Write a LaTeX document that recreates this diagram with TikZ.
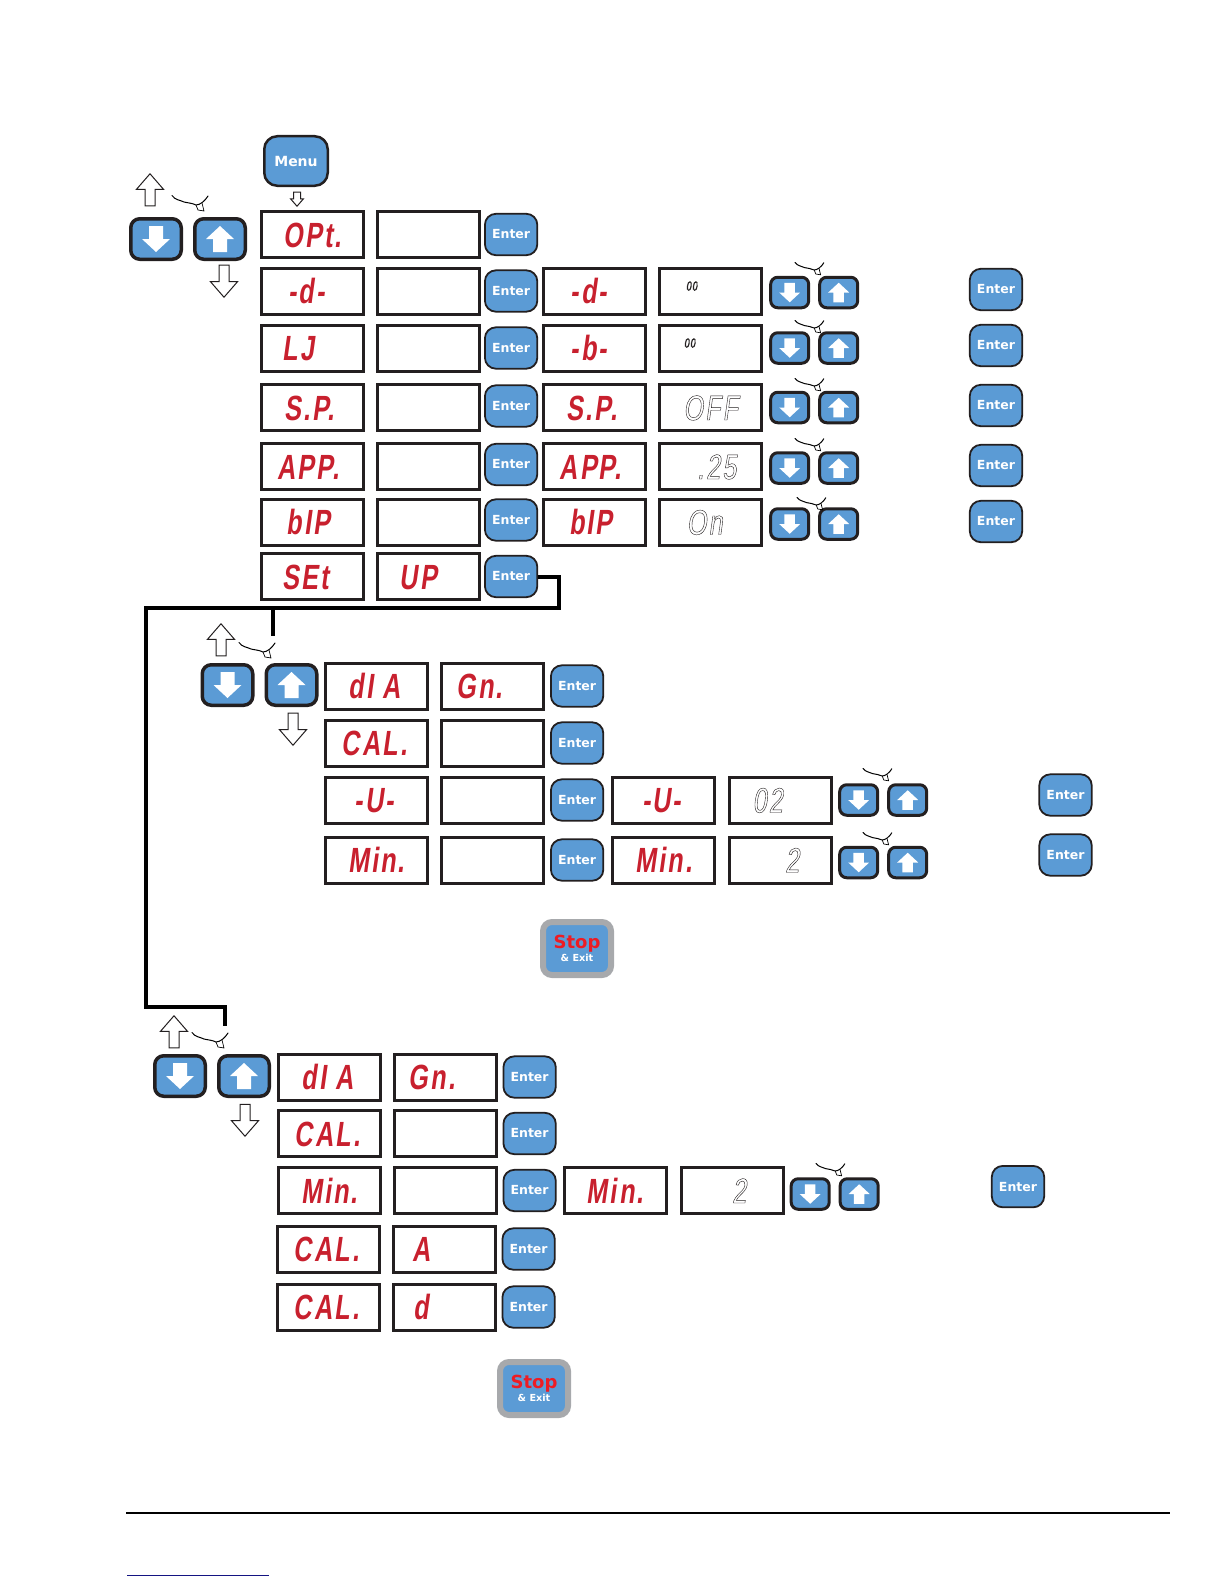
\documentclass[tikz,border=0pt]{standalone}
\usepackage{fontspec}
\usepackage{xcolor}
\usetikzlibrary{arrows.meta,positioning,shapes.arrows,calc}
\newfontfamily\segfont[FakeStretch=0.72,FakeSlant=0.14,LetterSpace=6]{Liberation Sans}
\newfontfamily\keyfont{DejaVu Sans}
\definecolor{keyblue}{RGB}{91,155,213}
\definecolor{keydark}{RGB}{35,31,32}
\definecolor{segred}{RGB}{200,32,46}
\definecolor{stopred}{RGB}{237,28,36}
\definecolor{stopgray}{RGB}{167,169,172}
\definecolor{linkblue}{RGB}{20,20,130}
% unlit digits, outlined only
\newcommand{\unlit}[1]{\mdseries\textcolor{keydark}{\special{pdf:code 1 Tr 0.4 w}#1\special{pdf:code 0 Tr 1 w}}}
\tikzset{
    dispbox/.style={draw=keydark, rectangle, fill=white, line width=3pt, minimum width=102pt, minimum height=46pt,
        inner sep=0pt, text=segred, text height=25pt, text depth=0pt, font=\segfont\bfseries\fontsize{35}{35}\selectfont},
    enterkey/.style={draw=keydark, rectangle, fill=keyblue, line width=1.8pt, rounded corners=11pt, minimum width=52.4pt,
        minimum height=41.4pt, inner sep=0pt, text=white, font=\keyfont\bfseries\fontsize{12.5}{12.5}\selectfont},
    arrowkey/.style={draw=keydark, rectangle, fill=keyblue, line width=3.5pt, rounded corners=9pt, minimum width=50.5pt,
        minimum height=40.5pt, inner sep=0pt},
    smallkey/.style={arrowkey, line width=3pt, rounded corners=7pt, minimum width=38pt, minimum height=30.5pt},
    downmark/.style={path picture={\begin{scope}[shift={(path picture bounding box.center)},x=#1pt,y=-#1pt]
        \fill[white, sharp corners] (-7,-13) -- (7,-13) -- (7,0) -- (14,0) -- (0,13) -- (-14,0) -- (-7,0) -- cycle;\end{scope}}},
    upmark/.style={path picture={\begin{scope}[shift={(path picture bounding box.center)},x=#1pt,y=-#1pt]
        \fill[white, sharp corners] (-7,13) -- (7,13) -- (7,0) -- (14,0) -- (0,-13) -- (-14,0) -- (-7,0) -- cycle;\end{scope}}},
    hollowarrow/.style={single arrow, draw=keydark, fill=white, line width=1pt, inner xsep=4.5pt, inner ysep=0pt, minimum width=26pt,
        minimum height=32pt, single arrow head extend=8.5pt, single arrow tip angle=82, single arrow head indent=0pt, anchor=tip},
    stopkey/.style={draw=stopgray, rectangle, fill=keyblue, line width=6pt, rounded corners=9pt, minimum width=68pt,
        minimum height=53pt, inner sep=0pt, align=center, text=white},
    busline/.style={draw=black, line width=4pt},
    probe/.pic={
        \draw[black, line width=1pt, line cap=round] (0,.5) .. controls (3,5) and (8,5) .. (12,7)
            .. controls (16,8) and (20,8) .. (24,10) .. controls (28,10) and (33,6) .. (36,1);
        \draw[black, line width=.7pt] (24,10) -- (26,15) -- (32,16) -- (30,8);
    }
}
\begin{document}
\begin{tikzpicture}[x=1pt,y=-1pt]
            \useasboundingbox (0,0) rectangle (1224,1584);

            % Menu and navigation keys
            \node[enterkey, line width=2.5pt, rounded corners=13pt, minimum width=63.5pt, minimum height=49.5pt,
                font=\keyfont\bfseries\fontsize{14}{14}\selectfont] (menuKey) at (296,161) {Menu};
            \node[hollowarrow, shape border rotate=270, inner xsep=3pt, minimum width=12pt, minimum height=14pt,
                single arrow head extend=3pt] (menuArrow) at (297,207) {};
            \node[hollowarrow, shape border rotate=90] (firstUp) at (150,173) {};
            \node[hollowarrow, shape border rotate=270] (firstDown) at (224,298) {};
            \pic at (172,195) {probe};
            \node[arrowkey, downmark=1] (firstDownKey) at (156,239) {};
            \node[arrowkey, upmark=1, right=10pt of firstDownKey] (firstUpKey) {};

            % OPt row
            \node[dispbox] (optName) at (312.5,234.5) {OPt.};
            \node[dispbox, right=11pt of optName] (optValue) {};
            \node[enterkey, right=3pt of optValue] (optEnter) {Enter};

            % -d- row
            \node[dispbox] (dName) at (312.5,291) {\hspace*{-12pt}-d-};
            \node[dispbox, right=11pt of dName] (dValue) {};
            \node[enterkey, right=3pt of dValue] (dEnter) {Enter};
            \node[dispbox, right=4pt of dEnter] (dEdit) {\hspace*{-12pt}-d-};
            \node[dispbox, right=11pt of dEdit] (dEditValue) {\hspace*{-38pt}\raisebox{13pt}{\fontsize{13}{13}\selectfont\unlit{00}}};
            \node[smallkey, downmark=.75, right=6pt of dEditValue, yshift=-1.5pt] (dDown) {};
            \node[smallkey, upmark=.75, right=8pt of dDown] (dUp) {};
            \pic[scale=.8] at (795,262) {probe};
            \node[enterkey] (dDone) at (996,289.5) {Enter};

            % LJ row
            \node[dispbox] (bName) at (312.5,348) {\hspace*{-28pt}LJ};
            \node[dispbox, right=11pt of bName] (bValue) {};
            \node[enterkey, right=3pt of bValue] (bEnter) {Enter};
            \node[dispbox, right=4pt of bEnter] (bEdit) {\hspace*{-12pt}-b-};
            \node[dispbox, right=11pt of bEdit] (bEditValue) {\hspace*{-42pt}\raisebox{13pt}{\fontsize{13}{13}\selectfont\unlit{00}}};
            \node[smallkey, downmark=.75, right=6pt of bEditValue] (bDown) {};
            \node[smallkey, upmark=.75, right=8pt of bDown] (bUp) {};
            \pic[scale=.8] at (795,320) {probe};
            \node[enterkey] (bDone) at (996,345.5) {Enter};

            % S.P. row
            \node[dispbox] (spName) at (312.5,407.5) {\hspace*{-6pt}S.P.};
            \node[dispbox, right=11pt of spName] (spValue) {};
            \node[enterkey, right=3pt of spValue, yshift=1.5pt] (spEnter) {Enter};
            \node[dispbox, right=4pt of spEnter, yshift=-1.5pt] (spEdit) {\hspace*{-6pt}S.P.};
            \node[dispbox, right=11pt of spEdit] (spEditValue) {\unlit{OFF}};
            \node[smallkey, downmark=.75, right=6pt of spEditValue] (spDown) {};
            \node[smallkey, upmark=.75, right=8pt of spDown] (spUp) {};
            \pic[scale=.8] at (795,378) {probe};
            \node[enterkey] (spDone) at (996,405.5) {Enter};

            % APP. row
            \node[dispbox] (appName) at (312.5,466.5) {\hspace*{-8pt}APP.};
            \node[dispbox, right=11pt of appName] (appValue) {};
            \node[enterkey, right=3pt of appValue, yshift=2pt] (appEnter) {Enter};
            \node[dispbox, right=4pt of appEnter, yshift=-2pt] (appEdit) {\hspace*{-8pt}APP.};
            \node[dispbox, right=11pt of appEdit] (appEditValue) {\hspace*{12pt}\unlit{.25}};
            \node[smallkey, downmark=.75, right=6pt of appEditValue, yshift=-1.5pt] (appDown) {};
            \node[smallkey, upmark=.75, right=8pt of appDown] (appUp) {};
            \pic[scale=.8] at (795,438) {probe};
            \node[enterkey] (appDone) at (996,465.5) {Enter};

            % bIP row
            \node[dispbox] (bipName) at (312.5,522) {\hspace*{-8pt}bIP};
            \node[dispbox, right=11pt of bipName] (bipValue) {};
            \node[enterkey, right=3pt of bipValue, yshift=2pt] (bipEnter) {Enter};
            \node[dispbox, right=4pt of bipEnter, yshift=-2pt] (bipEdit) {\hspace*{-8pt}bIP};
            \node[dispbox, right=11pt of bipEdit] (bipEditValue) {\hspace*{-12pt}\unlit{On}};
            \node[smallkey, downmark=.75, right=6pt of bipEditValue, yshift=-2pt] (bipDown) {};
            \node[smallkey, upmark=.75, right=8pt of bipDown] (bipUp) {};
            \pic[scale=.8] at (797,497) {probe};
            \node[enterkey] (bipDone) at (996,521.5) {Enter};

            % SEt UP row
            \node[dispbox] (setName) at (312.5,576.5) {\hspace*{-14pt}SEt};
            \node[dispbox, right=11pt of setName] (setValue) {\hspace*{-20pt}UP};
            \node[enterkey, right=3pt of setValue] (setEnter) {Enter};

            % Thick lines
            \coordinate (busTurn) at (559,608);
            \coordinate (busLeft) at (146,608);
            \coordinate (busBranch) at (273,608);
            \coordinate (busBranchEnd) at (273,636);
            \coordinate (busLow) at (146,1007);
            \coordinate (busLowEnd) at (225,1026);
            \draw[busline] (setEnter.east) -| (busTurn) -- (busLeft) -- (busLow) -| (busLowEnd);
            \draw[busline] (busBranch) -- (busBranchEnd);

            % Second block keys
            \node[hollowarrow, shape border rotate=90] (secondUp) at (221,623) {};
            \node[hollowarrow, shape border rotate=270] (secondDown) at (293,746) {};
            \pic at (239,642) {probe};
            \node[arrowkey, downmark=1] (secondDownKey) at (227.5,685) {};
            \node[arrowkey, upmark=1, right=10pt of secondDownKey] (secondUpKey) {};

            % dI A row
            \node[dispbox] (diaName) at (376.5,686) {\hspace*{-4pt}dI A};
            \node[dispbox, right=11pt of diaName] (diaValue) {\hspace*{-26pt}Gn.};
            \node[enterkey, right=5pt of diaValue] (diaEnter) {Enter};

            % CAL. row
            \node[dispbox] (calName) at (376.5,743) {\hspace*{-4pt}CAL.};
            \node[dispbox, right=11pt of calName] (calValue) {};
            \node[enterkey, right=5pt of calValue] (calEnter) {Enter};

            % -U- row
            \node[dispbox] (uName) at (376.5,800) {\hspace*{-4pt}-U-};
            \node[dispbox, right=11pt of uName] (uValue) {};
            \node[enterkey, right=5pt of uValue] (uEnter) {Enter};
            \node[dispbox, right=7pt of uEnter] (uEdit) {\hspace*{-4pt}-U-};
            \node[dispbox, right=12pt of uEdit] (uEditValue) {\hspace*{-26pt}\unlit{02}};
            \node[smallkey, downmark=.75, right=5pt of uEditValue] (uDown) {};
            \node[smallkey, upmark=.75, right=8pt of uDown] (uUp) {};
            \pic[scale=.8] at (863,768) {probe};
            \node[enterkey] (uDone) at (1065.5,795) {Enter};

            % Min. row
            \node[dispbox] (minName) at (376.5,860) {Min.};
            \node[dispbox, right=11pt of minName] (minValue) {};
            \node[enterkey, right=5pt of minValue] (minEnter) {Enter};
            \node[dispbox, right=7pt of minEnter] (minEdit) {Min.};
            \node[dispbox, right=12pt of minEdit] (minEditValue) {\hspace*{23pt}\unlit{2}};
            \node[smallkey, downmark=.75, right=5pt of minEditValue, yshift=-2.5pt] (minDown) {};
            \node[smallkey, upmark=.75, right=8pt of minDown] (minUp) {};
            \pic[scale=.8] at (863,832) {probe};
            \node[enterkey] (minDone) at (1065.5,855) {Enter};

            % Second stop key
            \node[stopkey] (secondStop) at (577,948.5) {{\keyfont\bfseries\fontsize{18}{18}\selectfont\textcolor{stopred}{Stop}}\\[1pt]
                {\keyfont\bfseries\fontsize{9.7}{10}\selectfont \& Exit}};

            % Third block keys
            \node[hollowarrow, shape border rotate=90] (thirdUp) at (174,1015) {};
            \node[hollowarrow, shape border rotate=270] (thirdDown) at (245,1137) {};
            \pic at (192,1032) {probe};
            \node[arrowkey, downmark=1] (thirdDownKey) at (180,1076) {};
            \node[arrowkey, upmark=1, right=10pt of thirdDownKey] (thirdUpKey) {};

            % dI A row
            \node[dispbox] (thirdDia) at (329.5,1077) {\hspace*{-4pt}dI A};
            \node[dispbox, right=10.5pt of thirdDia] (thirdDiaValue) {\hspace*{-26pt}Gn.};
            \node[enterkey, right=5pt of thirdDiaValue] (thirdDiaEnter) {Enter};

            % CAL. row
            \node[dispbox] (thirdCal) at (329.5,1133.5) {\hspace*{-4pt}CAL.};
            \node[dispbox, right=10.5pt of thirdCal] (thirdCalValue) {};
            \node[enterkey, right=5pt of thirdCalValue] (thirdCalEnter) {Enter};

            % Min. row
            \node[dispbox] (thirdMin) at (329.5,1190.5) {Min.};
            \node[dispbox, right=10.5pt of thirdMin] (thirdMinValue) {};
            \node[enterkey, right=5pt of thirdMinValue] (thirdMinEnter) {Enter};
            \node[dispbox, right=6pt of thirdMinEnter] (thirdMinEdit) {Min.};
            \node[dispbox, right=12pt of thirdMinEdit] (thirdMinEditValue) {\hspace*{14pt}\unlit{2}};
            \node[smallkey, downmark=.75, right=5pt of thirdMinEditValue, yshift=-3.5pt] (thirdDown2) {};
            \node[smallkey, upmark=.75, right=8pt of thirdDown2] (thirdUp2) {};
            \pic[scale=.8] at (816,1163) {probe};
            \node[enterkey] (thirdMinDone) at (1018,1186.6) {Enter};

            % CAL. A row
            \node[dispbox] (calA) at (328.5,1249) {\hspace*{-4pt}CAL.};
            \node[dispbox, right=10.5pt of calA] (calAValue) {\hspace*{-44pt}A};
            \node[enterkey, right=5pt of calAValue] (calAEnter) {Enter};

            % CAL. d row
            \node[dispbox] (calD) at (328.5,1307) {\hspace*{-4pt}CAL.};
            \node[dispbox, right=10.5pt of calD] (calDValue) {\hspace*{-46pt}d};
            \node[enterkey, right=5pt of calDValue] (calDEnter) {Enter};

            % Third stop key
            \node[stopkey] (thirdStop) at (534,1388.5) {{\keyfont\bfseries\fontsize{18}{18}\selectfont\textcolor{stopred}{Stop}}\\[1pt]
                {\keyfont\bfseries\fontsize{9.7}{10}\selectfont \& Exit}};

            % Page foot
            \coordinate (footLeft) at (126,1513);
            \coordinate (footRight) at (1170,1513);
            \coordinate (linkLeft) at (127,1575);
            \coordinate (linkRight) at (269,1575);
            \draw[black, line width=2pt] (footLeft) -- (footRight);
            \draw[linkblue, line width=1pt] (linkLeft) -- (linkRight);
\end{tikzpicture}
\end{document}
